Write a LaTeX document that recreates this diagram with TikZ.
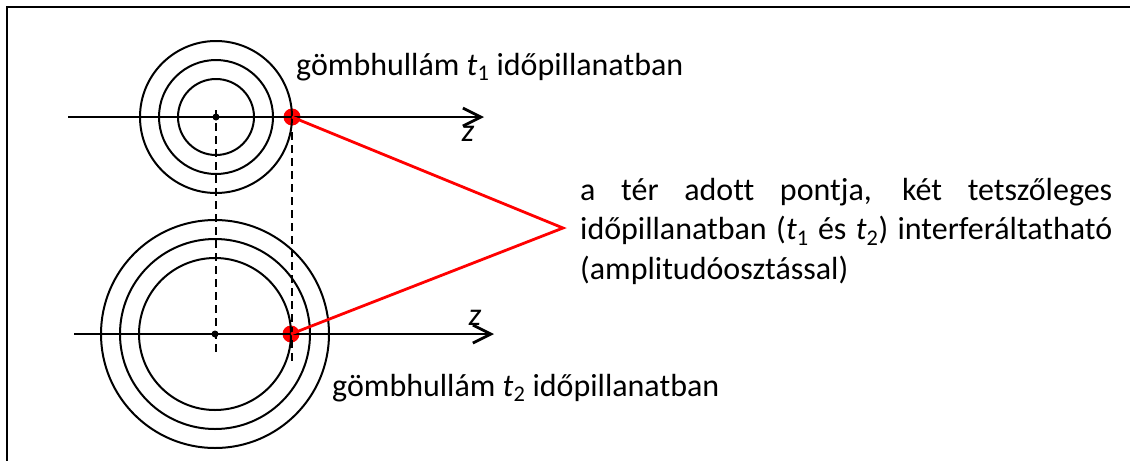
\documentclass[tikz,border=0pt]{standalone}
\usepackage{fontspec}
\setmainfont{Carlito}[Ligatures={NoCommon}]
\usetikzlibrary{arrows.meta}
\begin{document}
\begin{tikzpicture}[x=1pt,y=-1pt,
  wave/.style={line width=2pt},
  axis/.style={line width=2.8pt,-{Straight Barb[length=18pt,width=18pt]}},
  guide/.style={line width=2pt,dash pattern=on 8pt off 5pt},
  redline/.style={red,line width=2.8pt},
  reddot/.style={circle,fill=red,minimum size=17pt,inner sep=0pt},
  cdot/.style={circle,fill=black,minimum size=7pt,inner sep=0pt},
  lbl/.style={inner sep=0pt,font=\fontsize{32}{39}\selectfont},
  frame/.style={line width=2.6pt}]
\useasboundingbox (0,0) rectangle (1130,461);
% frame
\coordinate (fa) at (1130,7);
\coordinate (fb) at (7,7);
\coordinate (fc) at (7,461);
\draw[frame] (fa) -- (fb) -- (fc);
% red dots (beneath)
\node[reddot] (p1) at (292,117) {};
\node[reddot] (p2) at (291,334) {};
% top wave
\coordinate (c1) at (216,117);
\foreach \r in {38,57,76} \draw[wave] (c1) circle[radius=\r];
% bottom wave
\coordinate (c2) at (215,334);
\foreach \r in {76,95,114} \draw[wave] (c2) circle[radius=\r];
% axes
\coordinate (a1s) at (68,117);
\coordinate (a1e) at (484,117);
\draw[axis] (a1s) -- (a1e);
\coordinate (a2s) at (74,334);
\coordinate (a2e) at (494,334);
\draw[axis] (a2s) -- (a2e);
% dashed guides
\coordinate (d1s) at (216,110);
\coordinate (d1e) at (216,356);
\draw[guide] (d1s) -- (d1e);
\coordinate (d2s) at (292,132);
\coordinate (d2e) at (292,363);
\draw[guide] (d2s) -- (d2e);
% centre dots
\node[cdot] (o1) at (c1) {};
\node[cdot] (o2) at (c2) {};
% red connectors
\coordinate (v) at (563,228);
\draw[redline] (p1.center) -- (v) -- (p2.center);
% z labels
\node[lbl] (z1) at (468,134) {\textit{z}};
\node[lbl] (z2) at (475,318) {\textit{z}};
% text labels
\node[lbl,anchor=base west] (t1) at (296,75) {gömbhullám \textit{t}\textsubscript{1} időpillanatban};
\node[lbl,anchor=base west] (t2) at (332,396) {gömbhullám \textit{t}\textsubscript{2} időpillanatban};
\node[lbl,anchor=base west] (desc) at (580,200) {\parbox[t]{532pt}{\fontsize{32}{39.5}\selectfont\hbadness=10000\parindent=0pt
a tér adott pontja, két tetszőleges\linebreak időpillanatban (\textit{t}\textsubscript{1} és \textit{t}\textsubscript{2}) interferáltatható\linebreak (amplitudóosztással)}};
\end{tikzpicture}
\end{document}
